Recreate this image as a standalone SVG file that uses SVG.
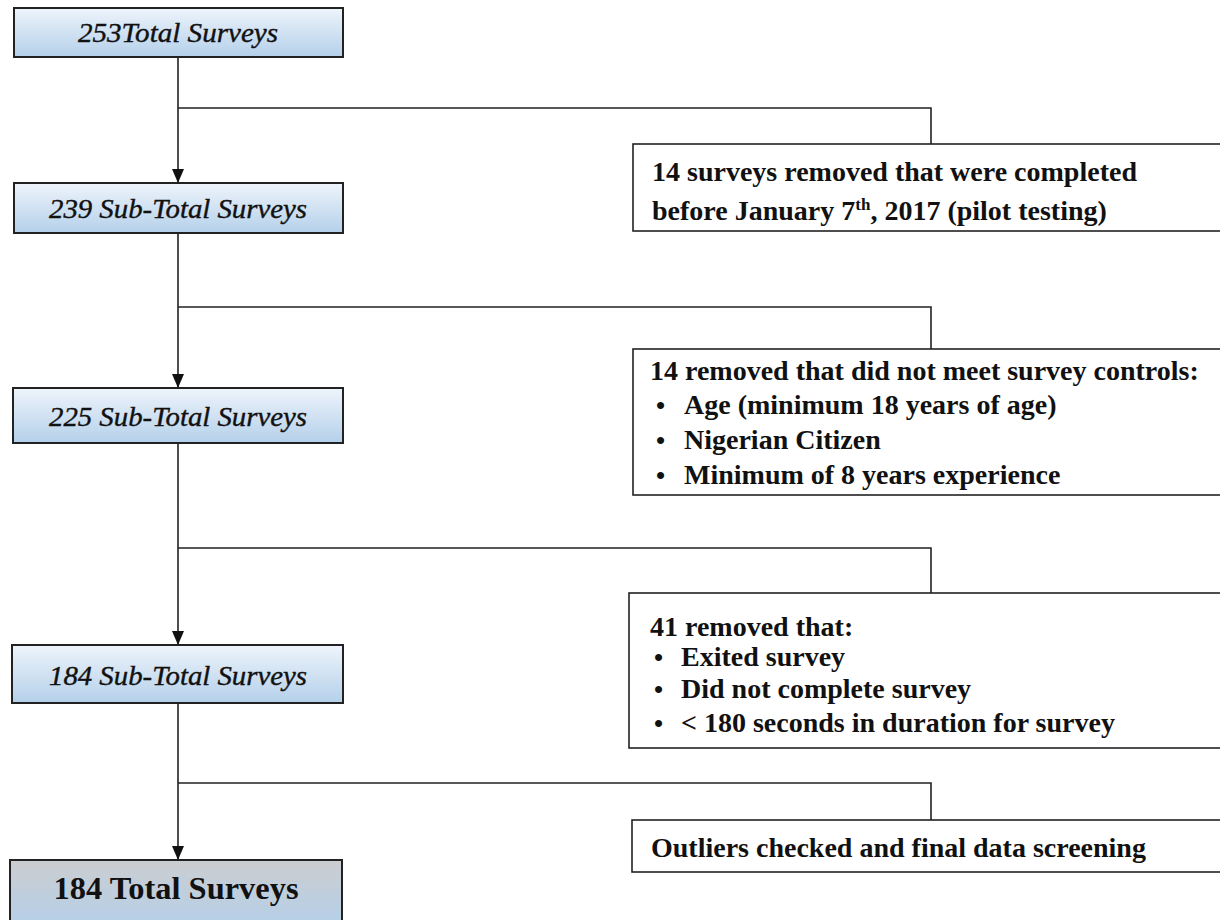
<svg xmlns="http://www.w3.org/2000/svg" width="1220" height="920" viewBox="0 0 1220 920">
  <defs>
    <linearGradient id="blueFill" x1="0" y1="0" x2="0" y2="1">
      <stop offset="0" stop-color="#eef4fb"/>
      <stop offset="1" stop-color="#b4d0ea"/>
    </linearGradient>
    <linearGradient id="finalFill" x1="0" y1="0" x2="0" y2="1">
      <stop offset="0" stop-color="#cbcdd0"/>
      <stop offset="1" stop-color="#b4d0ea"/>
    </linearGradient>
    <marker id="arrow" viewBox="0 0 14 12" refX="14" refY="6" markerWidth="14" markerHeight="12" markerUnits="userSpaceOnUse" orient="auto">
      <path d="M0,0 L14,6 L0,12 Z" fill="#111"/>
    </marker>
  </defs>
  <style>
    .stage { fill: url(#blueFill); stroke: #222; stroke-width: 2; }
    .final { fill: url(#finalFill); stroke: #222; stroke-width: 2; }
    .note { fill: #fff; stroke: #222; stroke-width: 1.6; }
    .stageText { font-family: "Liberation Serif", "Times New Roman", serif; font-style: italic; font-size: 28px; fill: #111; stroke: #111; stroke-width: 0.4; text-anchor: middle; }
    .finalText { font-family: "Liberation Serif", "Times New Roman", serif; font-weight: bold; font-size: 32px; fill: #111; text-anchor: middle; }
    .noteText { font-family: "Liberation Serif", "Times New Roman", serif; font-weight: bold; font-size: 28px; fill: #111; }
    .bullet { font-family: "Liberation Serif", "Times New Roman", serif; font-weight: bold; font-size: 26px; fill: #111; }
    .flow { fill: none; stroke: #222; stroke-width: 1.6; }
  </style>

  <!-- connectors -->
  <g id="connectors">
    <line class="flow" x1="178" y1="57" x2="178" y2="183" marker-end="url(#arrow)"/>
    <polyline class="flow" points="178,108 931,108 931,144"/>
    <line class="flow" x1="178" y1="233" x2="178" y2="388" marker-end="url(#arrow)"/>
    <polyline class="flow" points="178,307 931,307 931,349"/>
    <line class="flow" x1="178" y1="443" x2="178" y2="645" marker-end="url(#arrow)"/>
    <polyline class="flow" points="178,548 931,548 931,593"/>
    <line class="flow" x1="178" y1="703" x2="178" y2="860" marker-end="url(#arrow)"/>
    <polyline class="flow" points="178,783 931,783 931,820"/>
  </g>

  <!-- main stages -->
  <g id="total-253">
    <rect class="stage" x="14" y="8" width="329" height="49"/>
    <text class="stageText" x="178" y="42" textLength="200" lengthAdjust="spacingAndGlyphs">253Total Surveys</text>
  </g>
  <g id="subtotal-239">
    <rect class="stage" x="14" y="183" width="329" height="50"/>
    <text class="stageText" x="178" y="218" textLength="258" lengthAdjust="spacingAndGlyphs">239 Sub-Total Surveys</text>
  </g>
  <g id="subtotal-225">
    <rect class="stage" x="13" y="388" width="330" height="55"/>
    <text class="stageText" x="178" y="426" textLength="258" lengthAdjust="spacingAndGlyphs">225 Sub-Total Surveys</text>
  </g>
  <g id="subtotal-184">
    <rect class="stage" x="12" y="645" width="331" height="58"/>
    <text class="stageText" x="178" y="685" textLength="258" lengthAdjust="spacingAndGlyphs">184 Sub-Total Surveys</text>
  </g>
  <g id="total-184">
    <rect class="final" x="10" y="860" width="332" height="70"/>
    <text class="finalText" x="176" y="899" textLength="245" lengthAdjust="spacingAndGlyphs">184 Total Surveys</text>
  </g>

  <!-- exclusion notes -->
  <g id="note-pilot">
    <rect class="note" x="633" y="144" width="600" height="87"/>
    <text class="noteText" x="652" y="181">14 surveys removed that were completed</text>
    <text class="noteText" x="652" y="220">before January 7<tspan font-size="17" dy="-10">th</tspan><tspan dy="10">, 2017 (pilot testing)</tspan></text>
  </g>
  <g id="note-controls">
    <rect class="note" x="633" y="349" width="600" height="146"/>
    <text class="noteText" x="650" y="380">14 removed that did not meet survey controls:</text>
    <text class="bullet" x="656" y="414">•</text>
    <text class="noteText" x="684" y="414">Age (minimum 18 years of age)</text>
    <text class="bullet" x="656" y="449">•</text>
    <text class="noteText" x="684" y="449">Nigerian Citizen</text>
    <text class="bullet" x="656" y="484">•</text>
    <text class="noteText" x="684" y="484">Minimum of 8 years experience</text>
  </g>
  <g id="note-incomplete">
    <rect class="note" x="629" y="593" width="600" height="155"/>
    <text class="noteText" x="650" y="636">41 removed that:</text>
    <text class="bullet" x="654" y="666">•</text>
    <text class="noteText" x="681" y="666">Exited survey</text>
    <text class="bullet" x="654" y="698">•</text>
    <text class="noteText" x="681" y="698">Did not complete survey</text>
    <text class="bullet" x="654" y="732">•</text>
    <text class="noteText" x="681" y="732">&lt; 180 seconds in duration for survey</text>
  </g>
  <g id="note-screening">
    <rect class="note" x="632" y="820" width="600" height="52"/>
    <text class="noteText" x="651" y="857">Outliers checked and final data screening</text>
  </g>
</svg>
